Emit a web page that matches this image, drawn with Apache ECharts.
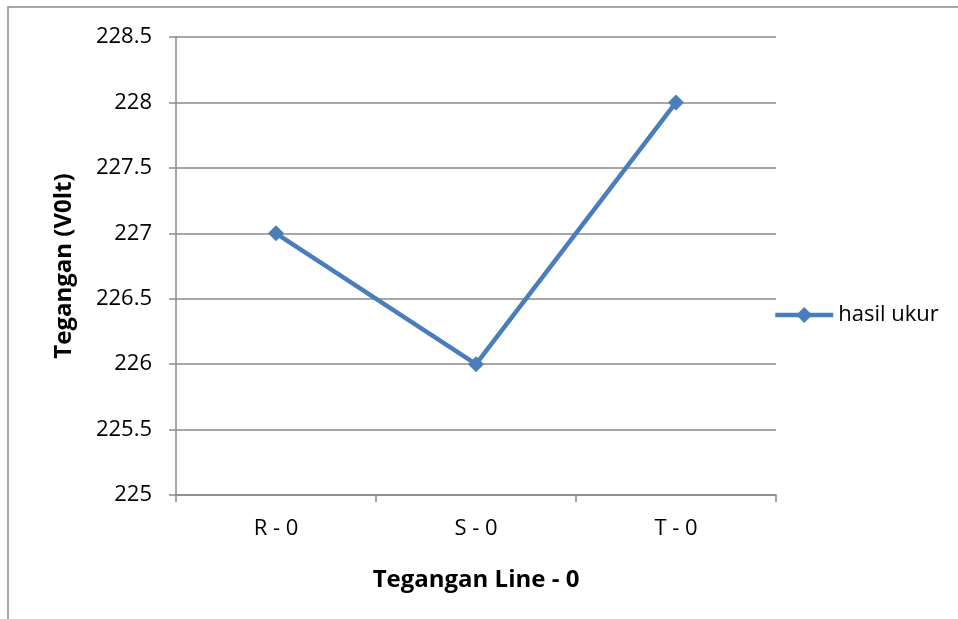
<!DOCTYPE html>
<html>
<head>
<meta charset="utf-8">
<script src="https://cdn.jsdelivr.net/npm/echarts@6/dist/echarts.min.js"></script>
<style>
  html, body { margin: 0; padding: 0; background: #fff; }
  #chart { width: 958px; height: 619px; }
</style>
</head>
<body>
<div id="chart"></div>
<script>
// data
var categories = ["R - 0", "S - 0", "T - 0"];
var hasilUkur = [227, 226, 228];
var seriesName = "hasil ukur";

var chart = echarts.init(document.getElementById("chart"));
var font = "'Open Sans', 'Liberation Sans', sans-serif";
var gray = "#8a8a8a";

chart.setOption({
  animation: false,
  textStyle: { fontFamily: font },
  graphic: [
    {
      type: "rect",
      shape: { x: 8, y: 7, width: 960, height: 640 },
      style: { fill: "none", stroke: gray, lineWidth: 1.5 },
      silent: true
    }
  ],
  grid: { left: 176, right: 182, top: 37, bottom: 124 },
  legend: {
    data: [seriesName],
    left: 768,
    top: 299,
    padding: 5,
    itemWidth: 58,
    itemHeight: 20,
    itemGap: 4,
    lineStyle: { width: 4.5 },
    textStyle: { fontSize: 22, color: "#000", fontFamily: font }
  },
  xAxis: {
    type: "category",
    data: categories,
    boundaryGap: true,
    name: "Tegangan Line - 0",
    nameLocation: "middle",
    nameGap: 73,
    nameTextStyle: { fontSize: 24, fontWeight: "bold", color: "#000", fontFamily: font },
    axisLine: { lineStyle: { color: gray, width: 1.5 } },
    axisTick: { show: true, length: 7, lineStyle: { color: gray, width: 1.5 } },
    axisLabel: { fontSize: 22, color: "#000", margin: 23, fontFamily: font },
    splitLine: { show: false }
  },
  yAxis: {
    type: "value",
    min: 225,
    max: 228.5,
    interval: 0.5,
    name: "Tegangan (V0lt)",
    nameLocation: "middle",
    nameGap: 100,
    nameTextStyle: { fontSize: 24, fontWeight: "bold", color: "#000", fontFamily: font },
    axisLine: { show: true, lineStyle: { color: gray, width: 1.5 } },
    axisTick: { show: true, length: 7, lineStyle: { color: gray, width: 1.5 } },
    axisLabel: { fontSize: 22, color: "#000", margin: 24, fontFamily: font },
    splitLine: { show: true, lineStyle: { color: gray, width: 1.5 } }
  },
  series: [
    {
      name: seriesName,
      type: "line",
      data: hasilUkur,
      symbol: "diamond",
      symbolSize: 16,
      itemStyle: { color: "#4a7ebb" },
      lineStyle: { color: "#4a7ebb", width: 4.5 }
    }
  ]
});
</script>
</body>
</html>
